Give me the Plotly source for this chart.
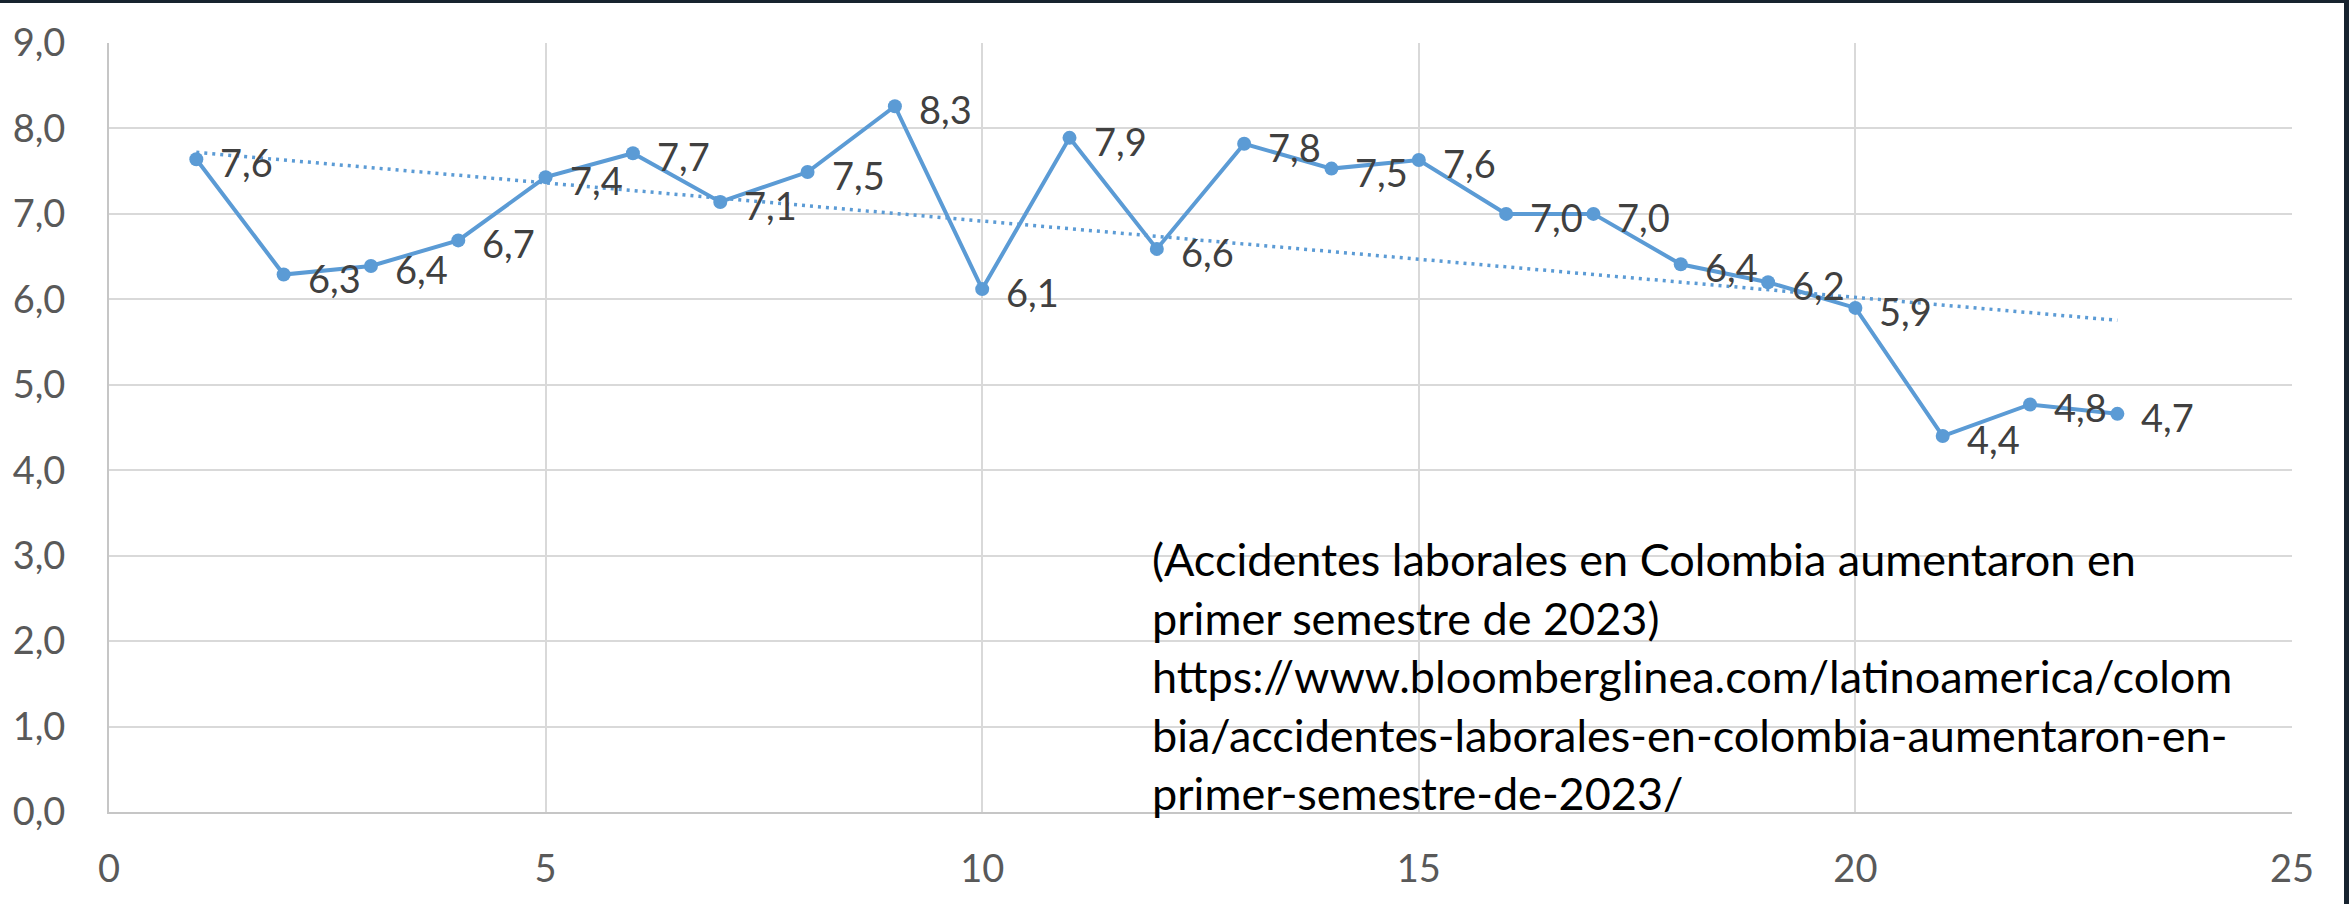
import numpy as np
import plotly.graph_objects as go

# Series: period index and measured rate
periods = [1, 2, 3, 4, 5, 6, 7, 8, 9, 10, 11, 12, 13, 14, 15, 16, 17, 18, 19, 20, 21, 22, 23]
rates = [7.64, 6.29, 6.39, 6.69, 7.43, 7.71, 7.14, 7.49, 8.26, 6.12, 7.89, 6.59,
         7.82, 7.53, 7.63, 7.00, 7.00, 6.41, 6.20, 5.90, 4.40, 4.77, 4.66]

y_ticks = [0, 1, 2, 3, 4, 5, 6, 7, 8, 9]
y_tick_text = ["0,0", "1,0", "2,0", "3,0", "4,0", "5,0", "6,0", "7,0", "8,0", "9,0"]
x_ticks = [0, 5, 10, 15, 20, 25]

note_text = ("(Accidentes laborales en Colombia aumentaron en<br>"
             "primer semestre de 2023)<br>"
             "https://www.bloomberglinea.com/latinoamerica/colom<br>"
             "bia/accidentes-laborales-en-colombia-aumentaron-en-<br>"
             "primer-semestre-de-2023/")

BLUE = "#5b9bd5"
FONT = "Lato"
W, H = 2349, 904
ML, MR, MT, MB = 109, 57, 43, 92

# Linear trend fitted to the series
slope, intercept = np.polyfit(periods, rates, 1)
trend_x = [periods[0], periods[-1]]
trend_y = [intercept + slope * v for v in trend_x]

fig = go.Figure()

fig.add_trace(go.Scatter(
    x=trend_x, y=trend_y, mode="lines",
    line=dict(color=BLUE, width=3.5, dash="3px,5px"),
    hoverinfo="skip", showlegend=False,
))

fig.add_trace(go.Scatter(
    x=periods, y=rates, mode="lines+markers",
    line=dict(color=BLUE, width=4),
    marker=dict(color=BLUE, size=14),
    showlegend=False,
))

# Value labels to the right of each point
for xv, yv in zip(periods, rates):
    fig.add_annotation(
        x=xv, y=yv, xref="x", yref="y",
        text=f"{yv:.1f}".replace(".", ","),
        showarrow=False, xanchor="left", yanchor="middle",
        xshift=22, yshift=-3,
        font=dict(family=FONT, size=38, color="#404040"),
    )

# Source note
fig.add_annotation(
    x=(1150 - ML) / (W - ML - MR), y=(H - MB - 530) / (H - MT - MB),
    xref="paper", yref="paper",
    text=note_text, showarrow=False, align="left",
    xanchor="left", yanchor="top",
    font=dict(family=FONT, size=45, color="#000000"),
)

# Dark window frame along the top and right edges
pw, ph = W - ML - MR, H - MT - MB
frame = "#17232f"
fig.add_shape(type="rect", xref="paper", yref="paper", layer="above",
              x0=-ML / pw - 0.01, x1=(W - ML) / pw + 0.01,
              y0=(H - MB - 3) / ph, y1=(H - MB) / ph + 0.01,
              fillcolor=frame, line=dict(width=0))
fig.add_shape(type="rect", xref="paper", yref="paper", layer="above",
              x0=(2344 - ML) / pw, x1=(W - ML) / pw + 0.01,
              y0=-MB / ph - 0.01, y1=(H - MB) / ph + 0.01,
              fillcolor=frame, line=dict(width=0))

fig.update_layout(
    width=W, height=H,
    margin=dict(l=ML, r=MR, t=MT, b=MB, pad=0),
    paper_bgcolor="white", plot_bgcolor="white",
    font=dict(family=FONT, color="#595959"),
    xaxis=dict(
        range=[0, 25], tickvals=x_ticks, showgrid=True,
        gridcolor="#d9d9d9", gridwidth=2, zeroline=False,
        showline=True, linecolor="#c6c6c6", linewidth=2,
        ticks="outside", ticklen=22, tickcolor="rgba(0,0,0,0)",
        tickfont=dict(family=FONT, size=38, color="#595959"),
    ),
    yaxis=dict(
        range=[0, 9], tickvals=y_ticks, ticktext=y_tick_text, showgrid=True,
        gridcolor="#d9d9d9", gridwidth=2, zeroline=False,
        showline=True, linecolor="#c6c6c6", linewidth=2,
        ticks="outside", ticklen=34, tickcolor="rgba(0,0,0,0)",
        tickfont=dict(family=FONT, size=38, color="#595959"),
    ),
)

fig.write_html("out.html")
